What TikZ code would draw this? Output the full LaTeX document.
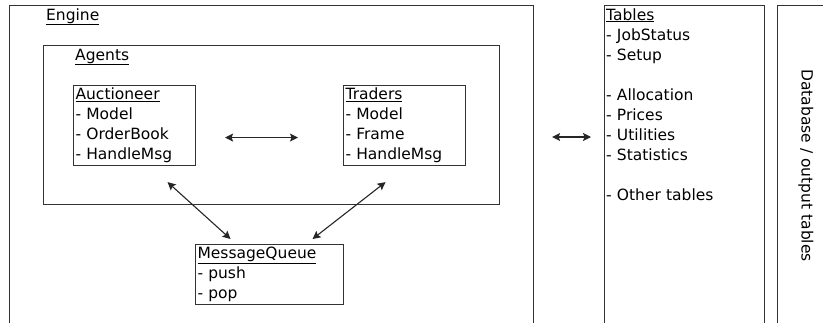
\documentclass[tikz,border=0pt]{standalone}
\usepackage{fontspec}
\setmainfont{DejaVu Sans}
\usetikzlibrary{arrows.meta, positioning}

\begin{document}
\begin{tikzpicture}[x=1pt, y=-1pt,
  frame/.style={draw=black!80, line width=1.1pt, inner sep=0pt, anchor=north west},
  cls/.style={draw=black!80, line width=1.1pt, align=left, anchor=north west,
              inner xsep=2pt, inner ysep=0pt, minimum height=80pt,
              font=\fontsize{15.5}{20}\selectfont},
  lbl/.style={font=\fontsize{15.5}{20}\selectfont, inner sep=0pt, align=left},
  arr/.style={{Stealth[length=8pt, width=8pt, inset=1.5pt]}-{Stealth[length=8pt, width=8pt, inset=1.5pt]},
              line width=1.1pt, black!85},
]
\useasboundingbox (0,0) rectangle (823,322);
\clip (0,0) rectangle (823,322);

% Engine
\node[frame, minimum width=524pt, minimum height=340pt] (engine) at (9,5) {};
\node[lbl, anchor=base west] (enginetitle) at ([xshift=37pt, yshift=-15pt]engine.north west) {\underline{Engine}};

% Agents
\node[frame, minimum width=456pt, minimum height=159pt] (agents) at (43,45) {};
\node[lbl, anchor=base west] (agentstitle) at ([xshift=32pt, yshift=-15pt]agents.north west) {\underline{Agents}};

\node[cls, text width=118pt] (auct) at (73,85) {\underline{Auctioneer}\\- Model\\- OrderBook\\- HandleMsg};
\node[cls, text width=118pt] (traders) at (343,85) {\underline{Traders}\\- Model\\- Frame\\- HandleMsg};
\draw[arr, shorten <=29pt, shorten >=45pt] ([yshift=-12pt]auct.east) -- ([yshift=-12pt]traders.west);

% Message queue
\node[cls, text width=144pt, minimum height=60pt] (mq) at (195,244) {\underline{MessageQueue}\\- push\\- pop};
\draw[arr] ([xshift=33pt, yshift=-16pt]auct.south) -- ([xshift=-39pt, yshift=5pt]mq.north);
\draw[arr] ([xshift=-19pt, yshift=-16pt]traders.south) -- ([xshift=43pt, yshift=5pt]mq.north);

% Tables
\node[frame, minimum width=160pt, minimum height=340pt] (tables) at (604,5) {};
\node[lbl, anchor=base west, text width=150pt] (tablelist) at ([xshift=2pt, yshift=-15pt]tables.north west)
  {\underline{Tables}\\- JobStatus\\- Setup\\[20pt]- Allocation\\- Prices\\- Utilities\\- Statistics\\[20pt]- Other tables};

\coordinate (midrow) at (0,137);
\draw[arr, shorten <=18pt, shorten >=13pt] (engine.east |- midrow) -- (tables.west |- midrow);

% Database
\node[frame, minimum width=60pt, minimum height=340pt] (db) at (777,5) {};
\node[lbl, rotate=-90] (dbtext) at ([xshift=29pt, yshift=10pt]db.west) {Database / output tables};
\end{tikzpicture}
\end{document}
